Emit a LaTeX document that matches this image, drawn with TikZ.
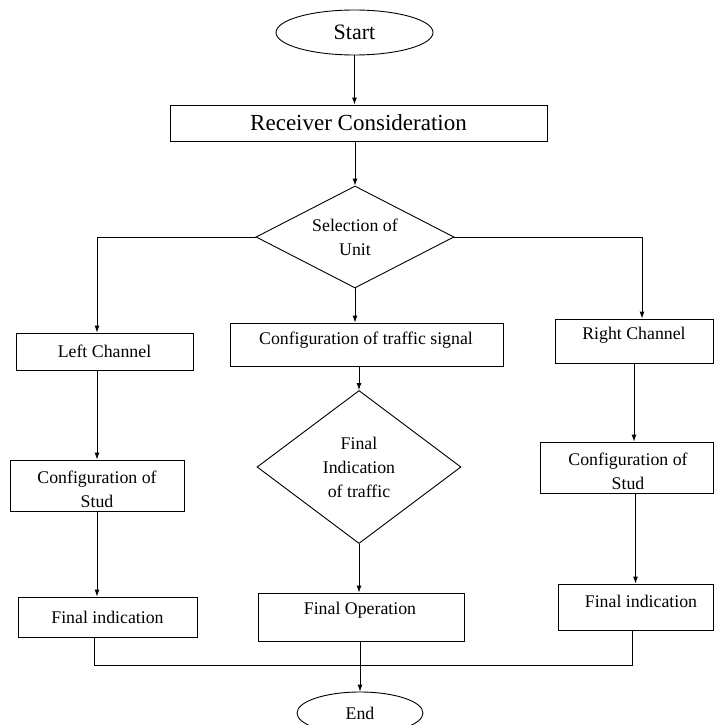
\documentclass[tikz,border=0pt]{standalone}
\usepackage{fontspec}
\setmainfont{Liberation Serif}
\usetikzlibrary{shapes.geometric,arrows.meta}
\begin{document}
\begin{tikzpicture}[x=1pt,y=-1pt, line width=0.9pt,
  box/.style={draw, rectangle, inner sep=0pt},
  txt/.style={font=\fontsize{17.8}{24}\selectfont, align=center, inner sep=0pt},
  arr/.style={-{Latex[length=7pt,width=5pt]}}]
\useasboundingbox (0,0) rectangle (714,725);

\node[draw, ellipse, minimum width=157pt, minimum height=45pt, inner sep=0pt, font=\fontsize{22}{26}\selectfont] (start) at (354.5,32.5) {Start};
\node[box, minimum width=377pt, minimum height=36pt, font=\fontsize{23}{27}\selectfont] (recv) at (358.5,123) {Receiver Consideration};
\node[draw, diamond, shape aspect=1.94, minimum width=198pt, minimum height=102pt, txt] (sel) at (355,237) {Selection of\\Unit};

\node[box, txt, minimum width=177pt, minimum height=37pt] (lc) at (104.5,351.5) {Left Channel};
\node[box, minimum width=273pt, minimum height=43pt] (ct) at (366.5,344.5) {};
\node[txt] (ctt) at (366,340) {Configuration of traffic signal};
\node[box, minimum width=158pt, minimum height=44pt] (rc) at (634,341) {};
\node[txt] (rct) at (634,335) {Right Channel};

\node[box, minimum width=174pt, minimum height=51pt] (ls) at (97,485.5) {};
\node[txt] (lst) at (97,489) {Configuration of\\Stud};
\node[draw, diamond, shape aspect=1.33, minimum width=204pt, minimum height=153pt, txt] (fid) at (359,467) {Final\\Indication\\of traffic};
\node[box, minimum width=173pt, minimum height=51pt] (rs) at (626.5,467.5) {};
\node[txt] (rst) at (628,471) {Configuration of\\Stud};

\node[box, txt, minimum width=179pt, minimum height=40pt] (fil) at (107.5,617) {Final indication};
\node[box, minimum width=206pt, minimum height=48pt] (fo) at (361,617) {};
\node[txt] (fot) at (360,610) {Final Operation};
\node[box, minimum width=155pt, minimum height=46pt] (fir) at (635.5,607) {};
\node[txt] (firt) at (641,601) {Final indication};

\node[draw, ellipse, minimum width=126pt, minimum height=42pt, txt] (end) at (360,713) {End};

\draw[arr] (start.south) -- (start.south |- recv.north);
\draw[arr] (sel.north |- recv.south) -- (sel.north);
\draw[arr] (sel.west) -| ([xshift=-7.5pt]lc.north);
\draw[arr] (sel.east) -| ([xshift=8pt]rc.north);
\draw[arr] (sel.south) -- (sel.south |- ct.north);
\draw[arr] (ls.north |- lc.south) -- (ls.north);
\draw[arr] (fid.north |- ct.south) -- (fid.north);
\draw[arr] (rc.south) -- (rc.south |- rs.north);
\draw[arr] (ls.south) -- (ls.south |- fil.north);
\draw[arr] (fid.south) -- (fid.south |- fo.north);
\draw[arr] (fir.north |- rs.south) -- (fir.north);
\coordinate (jl) at (94,665);
\coordinate (jr) at (632,665);
\draw (jl |- fil.south) -- (jl) -- (jr) -- (jr |- fir.south);
\draw[arr] (end.north |- fo.south) -- (end.north);
\end{tikzpicture}
\end{document}
